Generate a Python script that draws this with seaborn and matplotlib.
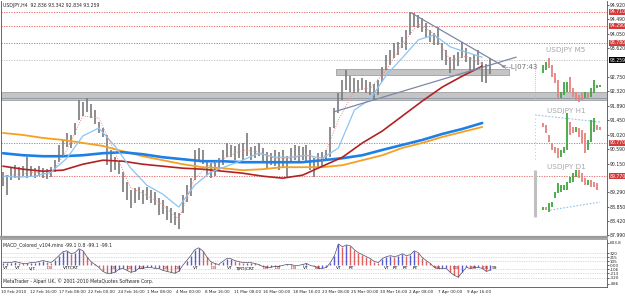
import numpy as np
import matplotlib
matplotlib.use('Agg')
import matplotlib.pyplot as plt
import seaborn as sns

# USDJPY H4 bars (roughly every second bar), high / low
bar_high = [89.89, 89.80, 90.01, 90.10, 90.04, 90.07, 90.34, 90.07, 90.01, 90.07,
            90.01, 89.98, 90.04, 90.25, 90.71, 90.86, 91.07, 91.01, 91.37, 92.06,
            92.00, 92.12, 91.94, 91.76, 91.40, 91.22, 91.01, 90.56, 90.34, 90.25,
            89.89, 89.59, 89.35, 89.41, 89.44, 89.35, 89.44, 89.35, 89.29, 89.11,
            89.05, 88.87, 88.81, 88.69, 88.66, 89.20, 89.50, 89.71, 90.56, 90.62,
            90.56, 90.25, 90.16, 90.19, 90.31, 90.56, 90.77, 90.71, 90.68, 90.74,
            90.77, 91.07, 90.65, 90.68, 90.77, 90.62, 90.50, 90.47, 90.56, 90.50,
            90.56, 90.37, 90.62, 90.71, 90.68, 90.65, 90.71, 90.56, 90.31, 90.47,
            90.50, 90.56, 91.25, 91.82, 92.27, 92.66, 92.96, 92.78, 92.72, 92.66,
            92.72, 92.66, 92.60, 92.54, 92.66, 93.05, 93.41, 93.57, 93.78, 93.81,
            93.96, 94.17, 94.71, 94.68, 94.62, 94.53, 94.38, 94.17, 94.08, 94.26,
            93.78, 93.57, 93.35, 93.41, 93.50, 93.81, 93.63, 93.35, 93.41, 93.57,
            93.20, 93.14, 93.34]
bar_low = [89.47, 89.20, 89.65, 89.71, 89.65, 89.77, 89.71, 89.74, 89.71, 89.77,
           89.71, 89.68, 89.74, 89.89, 90.19, 90.40, 90.65, 90.62, 91.01, 91.46,
           91.58, 91.70, 91.52, 91.34, 91.07, 90.95, 90.10, 89.89, 89.95, 89.83,
           89.29, 89.05, 88.81, 88.96, 89.05, 88.93, 89.05, 88.96, 88.90, 88.60,
           88.63, 88.45, 88.36, 88.30, 88.18, 88.66, 88.99, 89.17, 89.65, 90.19,
           90.13, 89.80, 89.71, 89.77, 89.95, 90.10, 90.34, 90.34, 90.25, 90.31,
           90.25, 90.37, 90.25, 90.31, 90.37, 90.19, 90.01, 90.10, 90.07, 89.95,
           90.01, 89.74, 90.16, 90.25, 90.19, 90.25, 90.16, 89.95, 89.74, 90.04,
           90.07, 90.25, 90.34, 91.22, 91.67, 92.06, 92.36, 92.30, 92.27, 92.30,
           92.36, 92.27, 92.21, 92.06, 92.21, 92.60, 92.96, 93.11, 93.32, 93.41,
           93.63, 93.57, 94.02, 94.26, 94.23, 94.11, 93.96, 93.81, 93.72, 93.72,
           93.26, 93.11, 92.87, 92.96, 93.08, 93.32, 93.20, 92.90, 92.96, 93.11,
           92.60, 92.57, 92.83]

# moving averages: fast ones sampled every 4 bars, slow ones every 5 bars
ma_fast = [89.77, 89.74, 89.77, 89.89, 90.31, 90.98, 91.22, 90.68, 90.01, 89.50,
           89.23, 88.84, 89.50, 89.89, 90.07, 90.25, 90.46, 90.34, 90.34, 90.40,
           90.31, 90.62, 91.76, 92.09, 92.81, 93.33, 93.87, 94.02, 93.66, 93.50, 93.35]
ma_dot = [89.77, 89.83, 89.89, 89.83, 90.56, 91.58, 91.52, 90.50, 89.41, 89.20,
          88.90, 88.48, 89.71, 90.13, 90.34, 90.56, 90.50, 90.31, 90.31, 90.40,
          90.25, 91.46, 92.36, 92.42, 92.96, 93.75, 94.35, 94.05, 93.26, 93.38, 93.14]
ma_red = [90.07, 89.98, 89.92, 89.95, 90.13, 90.25, 90.22, 90.13, 90.07, 90.01,
          89.98, 89.92, 89.86, 89.77, 89.71, 89.80, 90.07, 90.34, 90.77, 91.13,
          91.58, 92.03, 92.45, 92.78, 93.08]
ma_blue = [90.46, 90.40, 90.37, 90.37, 90.40, 90.46, 90.49, 90.43, 90.34, 90.28,
           90.22, 90.22, 90.19, 90.19, 90.19, 90.19, 90.25, 90.31, 90.40, 90.56,
           90.71, 90.86, 91.04, 91.19, 91.37]
ma_orange = [91.07, 91.01, 90.92, 90.86, 90.77, 90.68, 90.52, 90.37, 90.25, 90.13,
             90.04, 90.01, 89.95, 89.98, 90.04, 90.04, 90.04, 90.10, 90.25, 90.40,
             90.62, 90.77, 90.95, 91.10, 91.25]

red_levels = [94.71, 94.29, 93.78, 90.77, 89.77]
last_price = 93.259
zone_wide = (92.06, 92.30)
zone_short = (92.81, 93.00)
trend_down = [94.68, 93.05]
trend_up = [91.70, 93.35]

# 93.190 and 89.720 sit under the price boxes, so they are not shown
price_ticks = ['94.920', '94.490', '94.050', '93.620', '92.750', '92.320', '91.890',
               '91.450', '91.020', '90.590', '90.150', '89.290', '88.850', '88.420', '87.990']

# MACD histogram, one value per bar
macd = [78, 78, 78, 104, 78, 52, 52, 78, 78, 104,
        130, 104, 78, 156, 260, 364, 390, 312, 338, 442,
        390, 234, 104, 26, -52, -156, -208, -208, -182, -104,
        -78, -130, -182, -156, -78, -78, -52, -52, -78, -78,
        -130, -156, -182, -208, -156, 0, 130, 260, 416, 468,
        390, 234, 104, 52, 26, 104, 182, 182, 130, 104,
        78, 78, 78, 52, 26, -26, -52, -52, -26, -26,
        0, 26, 26, 0, 0, 26, 52, 0, -26, -78,
        -78, -52, 78, 260, 572, 494, 546, 520, 416, 338,
        286, 234, 182, 104, 78, 182, 234, 260, 234, 260,
        312, 260, 286, 390, 338, 208, 130, 52, -52, -78,
        -78, -78, -182, -260, -312, -182, -52, -78, -52, -52,
        -78, -156, -130]
macd_levels = [320, 215, 105, -106, -213, -320]
macd_ticks = ['603.8', '320', '215', '105', '0.00', '-106', '-213', '-320', '-486']
macd_tags = ['VT', 'VT', 'V|T', 'DB', 'VTTCRT', 'DB', 'DB', 'DB', 'DB', 'DB', 'VT', 'DB', 'VT',
             'T|RT|CRT', 'DB', 'DB', 'DB', 'VT', 'DB', 'VT', 'RT', 'VT', 'RT', 'RT', 'RT',
             'DB', 'DB', 'DB', 'DB', '99']
macd_tag_bars = [0, 3, 6.5, 11, 15, 27, 31, 34, 40, 43, 47.5, 52, 56, 58, 65, 68, 72, 75, 78,
                 83.5, 86.5, 95.5, 97.5, 100, 102.5, 108, 112.5, 117, 120, 122.5]

dates = ['10 Feb 2010', '12 Feb 16:00', '17 Feb 08:00', '22 Feb 00:00', '24 Feb 16:00',
         '1 Mar 08:00', '4 Mar 00:00', '8 Mar 16:00', '11 Mar 08:00', '16 Mar 00:00',
         '18 Mar 16:00', '23 Mar 08:00', '25 Mar 00:00', '30 Mar 16:00', '2 Apr 08:00',
         '7 Apr 00:00', '9 Apr 16:00']

# small multi-timeframe candles drawn at the right edge of the chart
m5_open = [92.87, 92.96, 93.32, 93.11, 92.87, 92.66, 92.12, 92.21, 92.30, 92.75,
           92.42, 92.30, 92.21, 92.27, 92.12, 92.27, 92.15, 92.27, 92.42, 92.45]
m5_close = [93.11, 93.20, 93.02, 92.75, 92.57, 92.12, 92.30, 92.60, 92.60, 92.30,
            92.15, 92.06, 92.00, 92.06, 92.30, 92.12, 92.42, 92.66, 92.51, 92.51]
h1_open = [91.37, 91.31, 91.01, 90.77, 90.65, 90.62, 90.34, 90.47, 90.56, 91.40,
           91.25, 91.10, 91.22, 91.16, 91.07, 90.56, 90.80, 91.10, 91.31, 91.25]
h1_close = [91.25, 91.07, 90.80, 90.56, 90.47, 90.31, 90.56, 90.65, 91.67, 91.01,
            91.07, 91.25, 90.95, 90.77, 90.47, 90.86, 91.46, 91.52, 91.16, 91.16]
d1_open = [88.75, 88.85, 88.69, 88.84, 89.11, 89.26, 89.29, 89.35, 89.35, 89.56,
           89.59, 89.74, 89.95, 89.86, 89.71, 89.50, 89.65, 89.59, 89.56]
d1_close = [88.85, 88.75, 88.96, 88.99, 89.29, 89.56, 89.50, 89.50, 89.59, 89.74,
            89.86, 89.95, 89.71, 89.59, 89.50, 89.65, 89.44, 89.44, 89.35]
h1_trend = [91.61, 91.40]
d1_trend = [88.75, 88.99]
m5_span = [93.20, 92.06]
d1_span = [89.95, 88.55]

sns.set_style('white')
plt.rcParams['font.family'] = ['Liberation Sans Narrow', 'DejaVu Sans']

fig = plt.figure(figsize=(6.25, 2.96), dpi=100)
ax = fig.add_axes([1 / 625, 59 / 296, 606 / 625, 236 / 296])
ax2 = fig.add_axes([1 / 625, 9 / 296, 606 / 625, 48 / 296], sharex=ax)

x = np.arange(len(bar_high))

# zones and levels
ax.axhspan(*zone_wide, color='#c4c4c4', ec='#a0a0a0', lw=0.6, zorder=1)
ax.axhline(92.12, color='#8894a8', lw=0.6, zorder=1)
ax.fill_between([83.5, 126.75], *zone_short, color='#c4c4c4', ec='#a0a0a0', lw=0.6, zorder=1)
for lv in red_levels:
    ax.axhline(lv, color='#e06060', ls=(0, (1.5, 1.5)), lw=0.6, zorder=1)
ax.axhline(last_price, color='#b8b8b8', ls=(0, (1.5, 1.5)), lw=0.6, zorder=1)

# price bars
ax.vlines(x, bar_low, bar_high, color='#7a7a7a', lw=1.2, zorder=2)

# moving averages
sns.lineplot(x=np.arange(len(ma_orange)) * 5, y=ma_orange, ax=ax, color='#f5a020', lw=1.3, zorder=3)
sns.lineplot(x=np.arange(len(ma_blue)) * 5, y=ma_blue, ax=ax, color='#1e80e6', lw=1.9, zorder=4)
sns.lineplot(x=np.arange(len(ma_red)) * 5, y=ma_red, ax=ax, color='#b22222', lw=1.2, zorder=4)
sns.lineplot(x=np.arange(len(ma_fast)) * 4, y=ma_fast, ax=ax, color='#8cc4f2', lw=0.9, zorder=4)
ax.plot(np.arange(len(ma_dot)) * 4, ma_dot, color='#f08a8a', lw=0.7, ls=(0, (1, 1.5)), zorder=4)

# trend lines
ax.plot([102.25, 125.75], trend_down, color='#7c88a4', lw=0.9, zorder=5)
ax.plot([82.75, 128.5], trend_up, color='#7c88a4', lw=0.9, zorder=5)
ax.text(124.5, 93.03, '<--L|07:43', fontsize=5, color='#707070', va='center', zorder=6)

# multi-timeframe panels
def candles(opens, closes, x0):
    cx = x0 + np.arange(len(opens)) * 0.75
    cols = ['#3fa63f' if c >= o else '#e88080' for o, c in zip(opens, closes)]
    ax.vlines(cx, opens, closes, colors=cols, lw=1.3, zorder=5)

ax.vlines(133.25, *m5_span, color='#b0b0b0', ls=(0, (1, 1.5)), lw=0.6)
ax.vlines(133.25, 90.30, 91.55, color='#b0b0b0', ls=(0, (1, 3)), lw=0.6)
ax.vlines(133.25, *d1_span, color='#c0c0c0', lw=2.2)
candles(m5_open, m5_close, 135.25)
candles(h1_open, h1_close, 135.25)
candles(d1_open, d1_close, 135.25)
ax.plot([133.25, 149.5], h1_trend, color='#8cc4f2', ls=(0, (1.5, 1.5)), lw=0.8)
ax.plot([137, 149.5], d1_trend, color='#8cc4f2', ls=(0, (1.5, 1.5)), lw=0.8)
for label, py in [('USDJPY M5', 93.58), ('USDJPY H1', 91.72), ('USDJPY D1', 90.06)]:
    ax.text(141, py, label, fontsize=5.2, color='#a8a8a8', ha='center', va='center')

ax.set_xlim(-0.25, 151.25)
ax.set_ylim(87.94, 95.04)
ax.yaxis.tick_right()
ax.set_yticks([float(t) for t in price_ticks])
ax.set_yticklabels(price_ticks)
ax.tick_params(axis='y', labelsize=3.3, length=1.5, pad=0.6, width=0.5)
ax.tick_params(axis='x', bottom=False, labelbottom=False)
ax.set_xlabel('')
ax.set_ylabel('')
for lv in red_levels:
    ax.text(1.004, lv, f'{lv:.3f}', transform=ax.get_yaxis_transform(), fontsize=3.3,
            color='white', va='center', ha='left',
            bbox=dict(boxstyle='square,pad=0.12', fc='#d43a3a', ec='none'))
ax.text(1.004, last_price, f'{last_price:.3f}', transform=ax.get_yaxis_transform(), fontsize=3.3,
        color='white', va='center', ha='left', bbox=dict(boxstyle='square,pad=0.12', fc='black', ec='none'))
for side in ['left', 'right']:
    ax.spines[side].set_color('#505050')
    ax.spines[side].set_linewidth(0.6)
ax.spines['top'].set_visible(False)
ax.spines['bottom'].set_color('#9a9a9a')
ax.spines['bottom'].set_linewidth(1.6)
ax.text(0.004, 0.99, 'USDJPY,H4  92.836 93.342 92.834 93.259', transform=ax.transAxes,
        fontsize=3.3, va='top', ha='left')

# MACD panel
mx = np.arange(len(macd))
rising = np.diff(np.r_[macd[0], macd]) >= 0
cols = np.where(rising, '#5a5ad0', '#e06060')
for lv in macd_levels:
    ax2.axhline(lv, color='#b8b8b8', ls=(0, (1, 1.5)), lw=0.5, zorder=1)
ax2.vlines(mx, 0, macd, colors=cols, lw=1.0, zorder=2)
sns.lineplot(x=mx, y=macd, ax=ax2, color='#50506a', lw=0.5, zorder=3)
for tag, tb in zip(macd_tags, macd_tag_bars):
    ax2.text(tb, -75, tag, fontsize=3.2, color='#a01818' if tag == 'DB' else 'black',
             ha='left', va='center', zorder=4)
ax2.text(0.004, 0.93, 'MACD_Colored_v104.mins -99.1 0.8 -99.1 -99.1', transform=ax2.transAxes,
         fontsize=3.3, va='top', ha='left')
ax2.text(0.004, 0.06, 'MetaTrader - Alpari UK, \u00a9 2001-2010 MetaQuotes Software Corp.',
         transform=ax2.transAxes, fontsize=3.3, va='bottom', ha='left')
ax2.set_ylim(-572, 702)
ax2.yaxis.tick_right()
ax2.set_yticks([598, 320, 215, 105, 0, -106, -213, -320, -486])
ax2.set_yticklabels(macd_ticks)
ax2.tick_params(axis='y', labelsize=3.0, length=1.5, pad=0.6, width=0.5)
ax2.set_xticks(np.arange(len(dates)) * 7.3 - 0.5)
ax2.set_xticklabels(dates, ha='left', fontsize=3.0)
ax2.tick_params(axis='x', length=1.5, pad=0.8, width=0.5)
ax2.set_xlabel('')
ax2.set_ylabel('')
for side in ['left', 'right', 'bottom']:
    ax2.spines[side].set_color('#505050')
    ax2.spines[side].set_linewidth(0.6)
ax2.spines['top'].set_color('#9a9a9a')
ax2.spines['top'].set_linewidth(1.2)

fig.savefig('out.png', dpi=100)
